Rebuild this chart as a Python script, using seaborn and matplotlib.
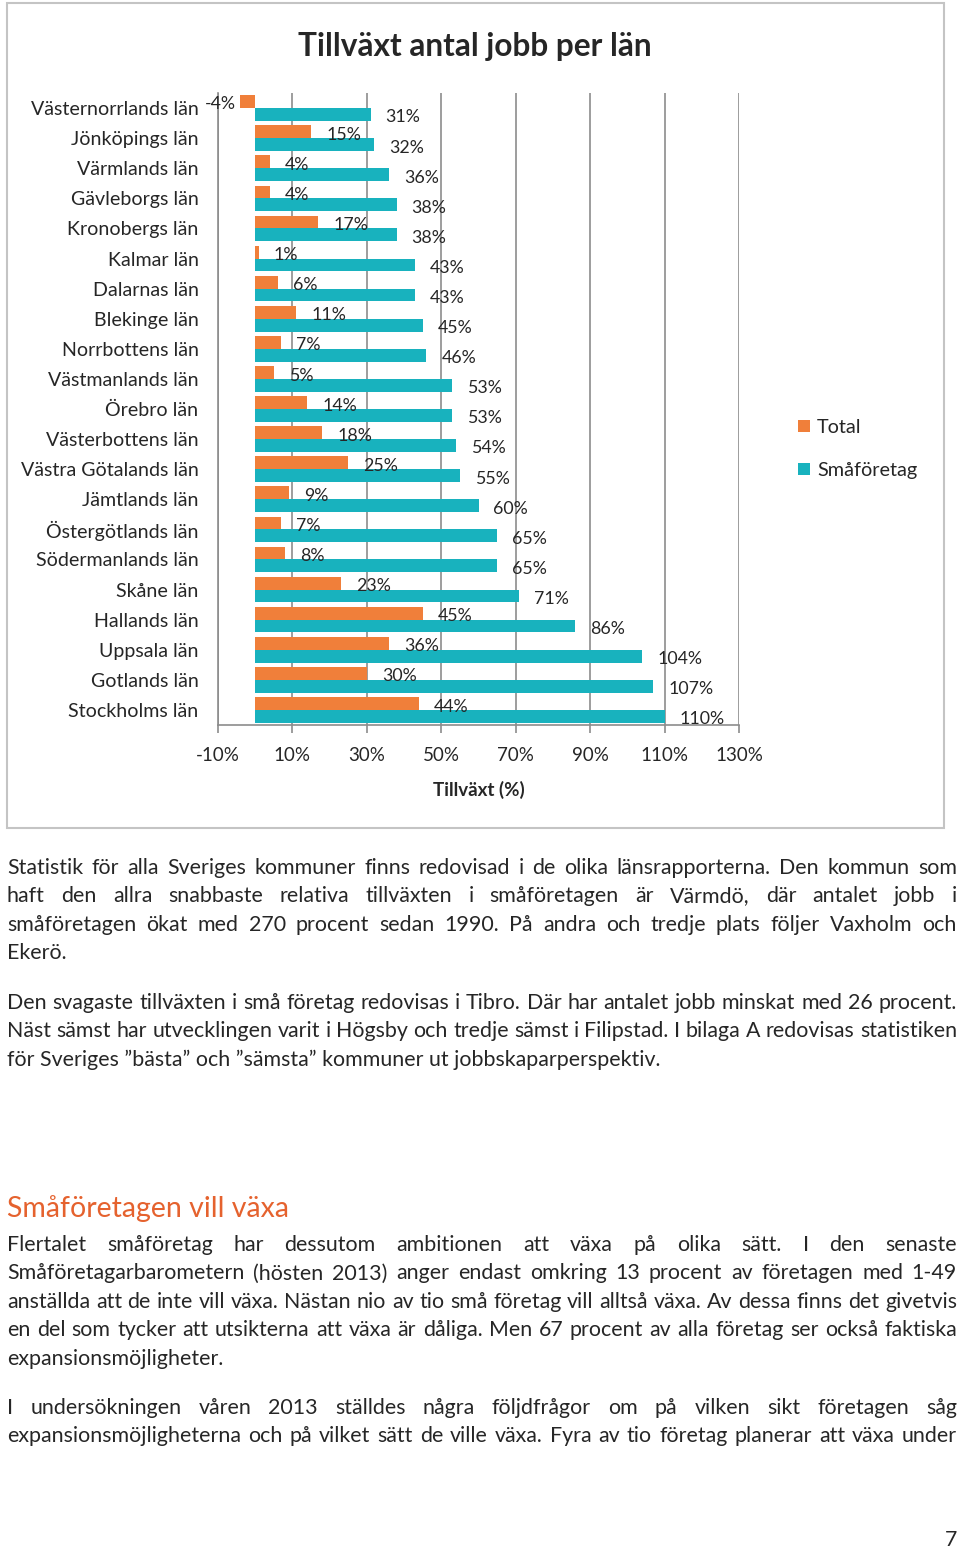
import pandas as pd
import matplotlib
matplotlib.use("Agg")
import matplotlib.pyplot as plt
import seaborn as sns
from matplotlib.patches import Rectangle
from matplotlib.ticker import FuncFormatter

# -----------------------------
# DATA
# -----------------------------
lan = [
    "Västernorrlands län", "Jönköpings län", "Värmlands län", "Gävleborgs län",
    "Kronobergs län", "Kalmar län", "Dalarnas län", "Blekinge län",
    "Norrbottens län", "Västmanlands län", "Örebro län", "Västerbottens län",
    "Västra Götalands län", "Jämtlands län", "Östergötlands län",
    "Södermanlands län", "Skåne län", "Hallands län", "Uppsala län",
    "Gotlands län", "Stockholms län",
]
total = [-4, 15, 4, 4, 17, 1, 6, 11, 7, 5, 14, 18, 25, 9, 7, 8, 23, 45, 36, 30, 44]
smaforetag = [31, 32, 36, 38, 38, 43, 43, 45, 46, 53, 53, 54, 55, 60, 65, 65, 71, 86, 104, 107, 110]
series = ["Total", "Småföretag"]
x_ticks = [-10, 10, 30, 50, 70, 90, 110, 130]

title = "Tillväxt antal jobb per län"
xlabel = "Tillväxt (%)"

para1 = [
    "Statistik för alla Sveriges kommuner finns redovisad i de olika länsrapporterna. Den kommun som",
    "haft den allra snabbaste relativa tillväxten i småföretagen är Värmdö, där antalet jobb i",
    "småföretagen ökat med 270 procent sedan 1990. På andra och tredje plats följer Vaxholm och",
    "Ekerö.",
]
para2 = [
    "Den svagaste tillväxten i små företag redovisas i Tibro. Där har antalet jobb minskat med 26 procent.",
    "Näst sämst har utvecklingen varit i Högsby och tredje sämst i Filipstad. I bilaga A redovisas statistiken",
    "för Sveriges ”bästa” och ”sämsta” kommuner ut jobbskaparperspektiv.",
]
heading = "Småföretagen vill växa"
para3 = [
    "Flertalet småföretag har dessutom ambitionen att växa på olika sätt. I den senaste",
    "Småföretagarbarometern (hösten 2013) anger endast omkring 13 procent av företagen med 1-49",
    "anställda att de inte vill växa. Nästan nio av tio små företag vill alltså växa. Av dessa finns det givetvis",
    "en del som tycker att utsikterna att växa är dåliga. Men 67 procent av alla företag ser också faktiska",
    "expansionsmöjligheter.",
]
para4 = [
    "I undersökningen våren 2013 ställdes några följdfrågor om på vilken sikt företagen såg",
    "expansionsmöjligheterna och på vilket sätt de ville växa. Fyra av tio företag planerar att växa under",
]
page_no = "7"

# -----------------------------
# STYLE
# -----------------------------
sns.set_theme(style="white")
plt.rcParams["font.family"] = ["Lato", "DejaVu Sans"]

ORANGE = "#F07F3A"
TEAL = "#18B2BE"
GRID = "#8C8C8C"
HEAD = "#E5622E"

W, H = 960, 1547
fig = plt.figure(figsize=(W / 100, H / 100), dpi=100)
fig.patch.set_facecolor("white")


def fx(px):
    return px / W


def fy(py):
    return 1 - py / H


# -----------------------------
# CHART
# -----------------------------
df = pd.DataFrame({
    "län": lan * 2,
    "serie": [series[0]] * len(lan) + [series[1]] * len(lan),
    "tillväxt": total + smaforetag,
})

ax = fig.add_axes([fx(218), fy(725), (739 - 218) / W, (725 - 93) / H])
sns.barplot(
    data=df, x="tillväxt", y="län", hue="serie",
    order=lan, hue_order=series, palette=[ORANGE, TEAL],
    orient="h", width=0.85, saturation=1, linewidth=0, ax=ax,
)

ax.set_xlim(-10, 130)
ax.set_xticks(x_ticks)
ax.xaxis.set_major_formatter(FuncFormatter(lambda v, p: f"{v:.0f}%"))
ax.grid(axis="x", color=GRID, lw=1.2)
ax.grid(axis="y", visible=False)
ax.set_axisbelow(True)
for s in ["top", "right"]:
    ax.spines[s].set_visible(False)
for s in ["left", "bottom"]:
    ax.spines[s].set_color(GRID)
    ax.spines[s].set_linewidth(1.2)

ax.tick_params(axis="x", length=6, width=1.2, color=GRID, pad=10, labelsize=13.5, bottom=True)
ax.tick_params(axis="y", length=0, pad=14, labelsize=14.1)
ax.set_ylabel("")
ax.set_xlabel(xlabel, fontsize=13.5, fontweight="bold", labelpad=12)

# data labels, Excel-like "outside end"
for container, vals in zip(ax.containers, [total, smaforetag]):
    for patch, v in zip(container.patches, vals):
        yc = patch.get_y() + patch.get_height() / 2
        if v < 0:
            ax.annotate(f"{v}%", (v, yc), xytext=(-4, -2), textcoords="offset pixels",
                        ha="right", va="center", fontsize=12.8, annotation_clip=False)
        else:
            ax.annotate(f"{v}%", (v, yc), xytext=(15, -3), textcoords="offset pixels",
                        ha="left", va="center", fontsize=12.8, annotation_clip=False)

sns.move_legend(
    ax, "upper left", bbox_to_anchor=(fx(798), fy(419)), bbox_transform=fig.transFigure,
    title=None, frameon=False, fontsize=14.3, handlelength=0.6, handleheight=0.6,
    handletextpad=0.35, labelspacing=1.3, borderpad=0, borderaxespad=0,
)

fig.text(fx(475), fy(56), title, ha="center", va="baseline", fontsize=22.8, fontweight="bold")

fig.add_artist(Rectangle((fx(7), fy(828)), (944 - 7) / W, (828 - 3) / H,
                         transform=fig.transFigure, fill=False, ec="#C4C4C4", lw=1.5))

# -----------------------------
# BODY TEXT (justified)
# -----------------------------
renderer = fig.canvas.get_renderer()
X0, X1 = 7, 957

probe_lines = [para2[0], para2[1], para3[2]]
probe = [fig.text(0, 0, s, fontsize=10) for s in probe_lines]
widest = max(t.get_window_extent(renderer).width for t in probe)
for t in probe:
    t.remove()
body_fs = 10 * 946 / widest


def put_line(line, y, justify=True):
    if not justify:
        fig.text(fx(X0), fy(y), line, fontsize=body_fs, va="baseline", ha="left")
        return
    words = line.split(" ")
    texts = [fig.text(0, fy(y), w, fontsize=body_fs, va="baseline", ha="left") for w in words]
    widths = [t.get_window_extent(renderer).width for t in texts]
    gap = (X1 - X0 - sum(widths)) / (len(words) - 1)
    x = X0
    for t, w in zip(texts, widths):
        t.set_x(fx(x))
        x += w + gap


def put_para(lines, y0, last_justified=False, step=28.4):
    for i, line in enumerate(lines):
        is_last = i == len(lines) - 1
        put_line(line, y0 + i * step, justify=(not is_last) or last_justified)


put_para(para1, 874)
put_para(para2, 1009)
fig.text(fx(7), fy(1217), heading, fontsize=20.5, color=HEAD, va="baseline", ha="left")
put_para(para3, 1251)
put_para(para4, 1414, last_justified=True)
fig.text(fx(957), fy(1546), page_no, fontsize=body_fs, va="baseline", ha="right")

fig.savefig("out.png", dpi=100)
